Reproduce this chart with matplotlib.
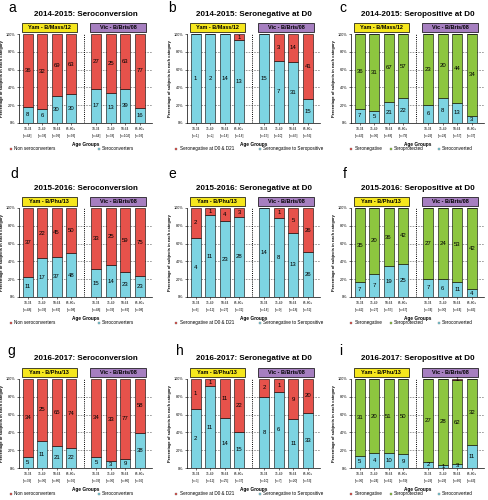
import matplotlib
matplotlib.use("Agg")
import matplotlib.pyplot as plt
from matplotlib.patches import Rectangle
import matplotlib.transforms as mtransforms

plt.rcParams['font.family'] = ['Liberation Sans', 'DejaVu Sans']

ages = ["18-34", "35-49", "50-64", "65-80+"]

# counts per panel: 4 Yamagata groups then 4 Victoria groups
a_non = [36, 32, 69, 63, 27, 25, 63, 77]
a_sc = [8, 6, 30, 30, 17, 13, 39, 16]
b_neg = [0, 0, 0, 1, 0, 3, 14, 41]
b_pos = [1, 2, 14, 13, 15, 7, 31, 15]
c_neg = [0, 0, 0, 0, 0, 0, 0, 0]
c_prot = [36, 31, 67, 57, 23, 20, 44, 34]
c_conv = [7, 5, 21, 22, 6, 8, 13, 3]
d_non = [37, 22, 45, 50, 33, 25, 59, 75]
d_sc = [11, 17, 37, 48, 15, 14, 23, 23]
e_neg = [2, 1, 4, 3, 0, 1, 5, 26]
e_pos = [4, 11, 23, 28, 14, 8, 13, 26]
f_neg = [0, 0, 0, 0, 0, 0, 0, 0]
f_prot = [35, 20, 36, 42, 27, 24, 53, 42]
f_conv = [7, 7, 19, 25, 7, 6, 11, 4]
g_non = [34, 25, 65, 74, 34, 33, 77, 58]
g_sc = [5, 11, 21, 22, 5, 3, 9, 38]
h_neg = [1, 1, 11, 22, 2, 1, 9, 20]
h_pos = [2, 11, 14, 15, 8, 6, 11, 33]
i_neg = [0, 0, 0, 0, 0, 0, 1, 0]
i_prot = [31, 20, 51, 50, 27, 28, 62, 32]
i_conv = [5, 4, 10, 9, 2, 1, 3, 11]

RED = "#E6524B"
CYAN = "#7DD4E2"
GREEN = "#8DC63F"
YELLOW = "#F6E71D"
PURPLE = "#A67FC0"

xpos = [0, 1, 2, 3, 4.75, 5.75, 6.75, 7.75]

W, H = 488, 500
fig = plt.figure(figsize=(W / 100, H / 100), dpi=100)

col_left = [19, 187, 351]
row_top = [34, 208, 379]
axw, axh = 133, 89
title_y = [14, 188, 358]
letter_xy = [[(8, 8), (168, 8), (339, 8)],
             [(10, 174), (168, 174), (343, 174)],
             [(7, 351), (176, 351), (339, 351)]]


def panel(r, c, letter, title, strain_yam, series, colors, labels, leg_x):
    left, top = col_left[c], row_top[r]
    ax = fig.add_axes([left / W, 1 - (top + axh) / H, axw / W, axh / H])
    totals = [sum(v) for v in zip(*series)]
    bottom = [0.0] * 8
    for vals, col in zip(series, colors):
        pct = [100 * v / t for v, t in zip(vals, totals)]
        ax.bar(xpos, pct, width=0.68, bottom=bottom, color=col,
               edgecolor="black", linewidth=0.4, zorder=3)
        for x, b, p, v in zip(xpos, bottom, pct, vals):
            if v > 0:
                ax.text(x, b + p / 2, str(v), ha="center", va="center",
                        fontsize=4.3, zorder=4)
        bottom = [b + p for b, p in zip(bottom, pct)]

    ax.set_xlim(-0.6, 8.6)
    ax.set_ylim(0, 100)
    ax.set_yticks([0, 20, 40, 60, 80, 100])
    ax.set_yticklabels(["0%", "20%", "40%", "60%", "80%", "100%"])
    for yv in [20, 40, 60, 80]:
        ax.axhline(yv, color="#555555", lw=0.4, ls=(0, (3, 2)), zorder=1)
    ax.plot([3.875, 3.875], [0, 100], color="black", lw=0.7, ls=(0, (1, 1.2)), zorder=2)
    ax.set_xticks(xpos)
    ax.set_xticklabels([f"{a}\n[n={t}]" for a, t in zip(ages * 2, totals)],
                       fontsize=2.3, linespacing=2.0)
    ax.tick_params(axis="y", labelsize=2.7, length=1.5, width=0.4, pad=1)
    ax.tick_params(axis="x", length=1.5, width=0.4, pad=1.5)
    for s in ["top", "right"]:
        ax.spines[s].set_visible(False)
    for s in ["left", "bottom"]:
        ax.spines[s].set_linewidth(0.5)
    ax.set_ylabel("Percentage of subjects in each category", fontsize=2.9,
                  fontweight="bold", labelpad=1)
    ax.set_xlabel("Age Groups", fontsize=3.4, fontweight="bold", labelpad=3)

    trans = mtransforms.blended_transform_factory(ax.transData, ax.transAxes)
    for x0, x1, fc, txt in [(-0.42, 3.42, YELLOW, strain_yam),
                            (4.33, 8.17, PURPLE, "Vic - B/Bris/08")]:
        ax.add_patch(Rectangle((x0, 1.025), x1 - x0, 0.1, transform=trans,
                               facecolor=fc, edgecolor="black", lw=0.5,
                               clip_on=False))
        ax.text((x0 + x1) / 2, 1.075, txt, transform=trans, ha="center",
                va="center", fontsize=4.0, fontweight="bold")

    fig.text((left + axw / 2) / W, 1 - title_y[r] / H, title, fontsize=5.8,
             fontweight="bold", ha="center", va="center")
    lx, ly = letter_xy[r][c]
    fig.text(lx / W, 1 - ly / H, letter, fontsize=10, va="center", ha="left")

    # legend drawn top segment first
    for x, lab, col in zip(leg_x, labels, colors[::-1]):
        ax.plot([x], [-0.29], marker="s", ms=1.9, color=col, mec="#555555",
                mew=0.2, transform=ax.transAxes, clip_on=False)
        ax.text(x + 0.025, -0.29, lab, transform=ax.transAxes, fontsize=3.3,
                va="center", ha="left")
    return ax


sc_lab = ["Non seroconverters", "Seroconverters"]
neg_lab = ["Seronegative at D0 & D21", "Seronegative to Seropositive"]
pos_lab = ["Seronegative", "Seroprotected", "Seroconverted"]
leg2 = [-0.06, 0.6]
leg2b = [-0.08, 0.55]
leg3 = [0.0, 0.3, 0.66]

panel(0, 0, "a", "2014-2015: Seroconversion", "Yam - B/Mass/12",
      [a_sc, a_non], [CYAN, RED], sc_lab, leg2)
panel(0, 1, "b", "2014-2015: Seronegative at D0", "Yam - B/Mass/12",
      [b_pos, b_neg], [CYAN, RED], neg_lab, leg2b)
panel(0, 2, "c", "2014-2015: Seropositive at D0", "Yam - B/Mass/12",
      [c_conv, c_prot, c_neg], [CYAN, GREEN, RED], pos_lab, leg3)
panel(1, 0, "d", "2015-2016: Seroconversion", "Yam - B/Phu/13",
      [d_sc, d_non], [CYAN, RED], sc_lab, leg2)
panel(1, 1, "e", "2015-2016: Seronegative at D0", "Yam - B/Phu/13",
      [e_pos, e_neg], [CYAN, RED], neg_lab, leg2b)
panel(1, 2, "f", "2015-2016: Seropositive at D0", "Yam - B/Phu/13",
      [f_conv, f_prot, f_neg], [CYAN, GREEN, RED], pos_lab, leg3)
panel(2, 0, "g", "2016-2017: Seroconversion", "Yam - B/Phu/13",
      [g_sc, g_non], [CYAN, RED], sc_lab, leg2)
panel(2, 1, "h", "2016-2017: Seronegative at D0", "Yam - B/Phu/13",
      [h_pos, h_neg], [CYAN, RED], neg_lab, leg2b)
panel(2, 2, "i", "2016-2017: Seropositive at D0", "Yam - B/Phu/13",
      [i_conv, i_prot, i_neg], [CYAN, GREEN, RED], pos_lab, leg3)

fig.savefig("out.png", dpi=100)
